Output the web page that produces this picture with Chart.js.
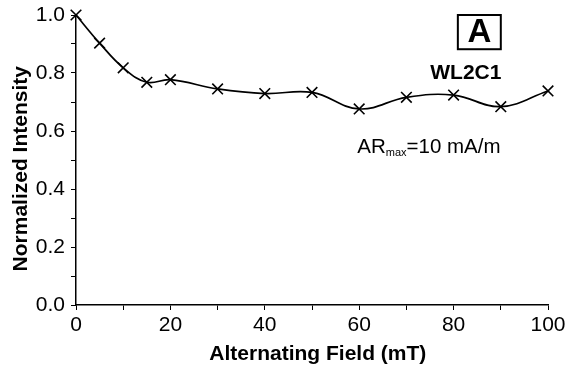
<!DOCTYPE html>
<html>
<head>
<meta charset="utf-8">
<script src="https://cdn.jsdelivr.net/npm/chart.js@4"></script>
<style>
  html, body { margin: 0; padding: 0; background: #fff; }
  canvas { display: block; }
</style>
</head>
<body>
<canvas id="myChart" width="569" height="371"></canvas>
<script>
// alternating field steps (mT) and normalized intensity
const fields = [0, 5, 10, 15, 20, 30, 40, 50, 60, 70, 80, 90, 100];
const intensity = [1.0, 0.903, 0.818, 0.768, 0.777, 0.745, 0.729, 0.733, 0.676, 0.716, 0.724, 0.684, 0.738];

const xTicks = [0, 20, 40, 60, 80, 100];
const yTicks = [0.0, 0.2, 0.4, 0.6, 0.8, 1.0];

const sampleName = 'WL2C1';
const panelLetter = 'A';

const font = 'Arial, "Liberation Sans", sans-serif';

// text labels placed in data coordinates
const notes = {
    id: 'notes',
    afterDraw: function (chart) {
        const ctx = chart.ctx;
        const x = chart.scales.x;
        const y = chart.scales.y;
        ctx.save();
        ctx.fillStyle = '#000';
        ctx.strokeStyle = '#000';

        // boxed panel letter
        const bx0 = x.getPixelForValue(80.9);
        const bx1 = x.getPixelForValue(90);
        const by0 = y.getPixelForValue(1.0);
        const by1 = y.getPixelForValue(0.882);
        ctx.lineWidth = 2;
        ctx.strokeRect(bx0, by0, bx1 - bx0, by1 - by0);
        ctx.font = 'bold 33px ' + font;
        ctx.textAlign = 'center';
        ctx.textBaseline = 'middle';
        ctx.fillText(panelLetter, (bx0 + bx1) / 2, (by0 + by1) / 2 + 1);

        ctx.font = 'bold 21px ' + font;
        ctx.fillText(sampleName, x.getPixelForValue(82.6), y.getPixelForValue(0.8));

        // AR_max line
        ctx.textAlign = 'left';
        ctx.textBaseline = 'alphabetic';
        let px = x.getPixelForValue(59.6);
        const py = y.getPixelForValue(0.525);
        ctx.font = '20.5px ' + font;
        ctx.fillText('AR', px, py);
        px += ctx.measureText('AR').width;
        ctx.font = '11px ' + font;
        ctx.fillText('max', px, py + 3);
        px += ctx.measureText('max').width;
        ctx.font = '20.5px ' + font;
        ctx.fillText('=10 mA/m', px, py);
        ctx.restore();
    }
};

const data = {
    datasets: [{
        label: sampleName,
        data: fields.map(function (f, i) { return { x: f, y: intensity[i] }; }),
        borderColor: '#000',
        borderWidth: 1.7,
        tension: 0.4,
        pointStyle: 'crossRot',
        pointRadius: 7.5,
        pointBorderWidth: 1.6,
        pointBorderColor: '#000',
        pointBackgroundColor: '#000',
        clip: false
    }]
};

const config = {
    type: 'line',
    data: data,
    plugins: [notes],
    options: {
        responsive: false,
        animation: false,
        events: [],
        layout: {
            autoPadding: false,
            padding: { top: 15, right: 21, left: 0, bottom: 0 }
        },
        plugins: {
            legend: { display: false },
            tooltip: { enabled: false }
        },
        scales: {
            x: {
                type: 'linear',
                min: 0,
                max: 100,
                afterFit: function (scale) {
                    scale.height = 66;
                    scale.paddingLeft = 0;
                    scale.paddingRight = 0;
                },
                afterBuildTicks: function (scale) {
                    const t = [];
                    for (let v = 0; v <= 100; v += 10) t.push({ value: v });
                    scale.ticks = t;
                },
                border: { display: true, color: '#000', width: 1.5 },
                grid: {
                    drawOnChartArea: false,
                    drawTicks: true,
                    tickLength: 5,
                    tickColor: '#000',
                    tickWidth: 1
                },
                ticks: {
                    autoSkip: false,
                    maxRotation: 0,
                    color: '#000',
                    padding: 3,
                    font: { family: font, size: 21 },
                    callback: function (v) { return xTicks.indexOf(v) >= 0 ? String(v) : ''; }
                },
                title: {
                    display: true,
                    text: '\u00a0\u00a0Alternating Field (mT)',
                    color: '#000',
                    padding: { top: 4, bottom: 4 },
                    font: { family: font, size: 21, weight: 'bold' }
                }
            },
            y: {
                type: 'linear',
                min: 0,
                max: 1.0,
                afterFit: function (scale) {
                    scale.width = 76;
                    scale.paddingTop = 0;
                    scale.paddingBottom = 0;
                },
                afterBuildTicks: function (scale) {
                    const t = [];
                    for (let i = 0; i <= 10; i++) t.push({ value: i / 10 });
                    scale.ticks = t;
                },
                border: { display: true, color: '#000', width: 1.5 },
                grid: {
                    drawOnChartArea: false,
                    drawTicks: true,
                    tickLength: 5,
                    tickColor: '#000',
                    tickWidth: 1
                },
                ticks: {
                    autoSkip: false,
                    color: '#000',
                    padding: 6,
                    font: { family: font, size: 21 },
                    callback: function (v) {
                        const r = Math.round(v * 10) / 10;
                        return yTicks.indexOf(r) >= 0 ? r.toFixed(1) : '';
                    }
                },
                title: {
                    display: true,
                    text: 'Normalized Intensity\u00a0\u00a0\u00a0',
                    color: '#000',
                    padding: { top: 9, bottom: 4 },
                    font: { family: font, size: 21, weight: 'bold' }
                }
            }
        }
    }
};

const myChart = new Chart(document.getElementById('myChart'), config);
</script>
</body>
</html>
